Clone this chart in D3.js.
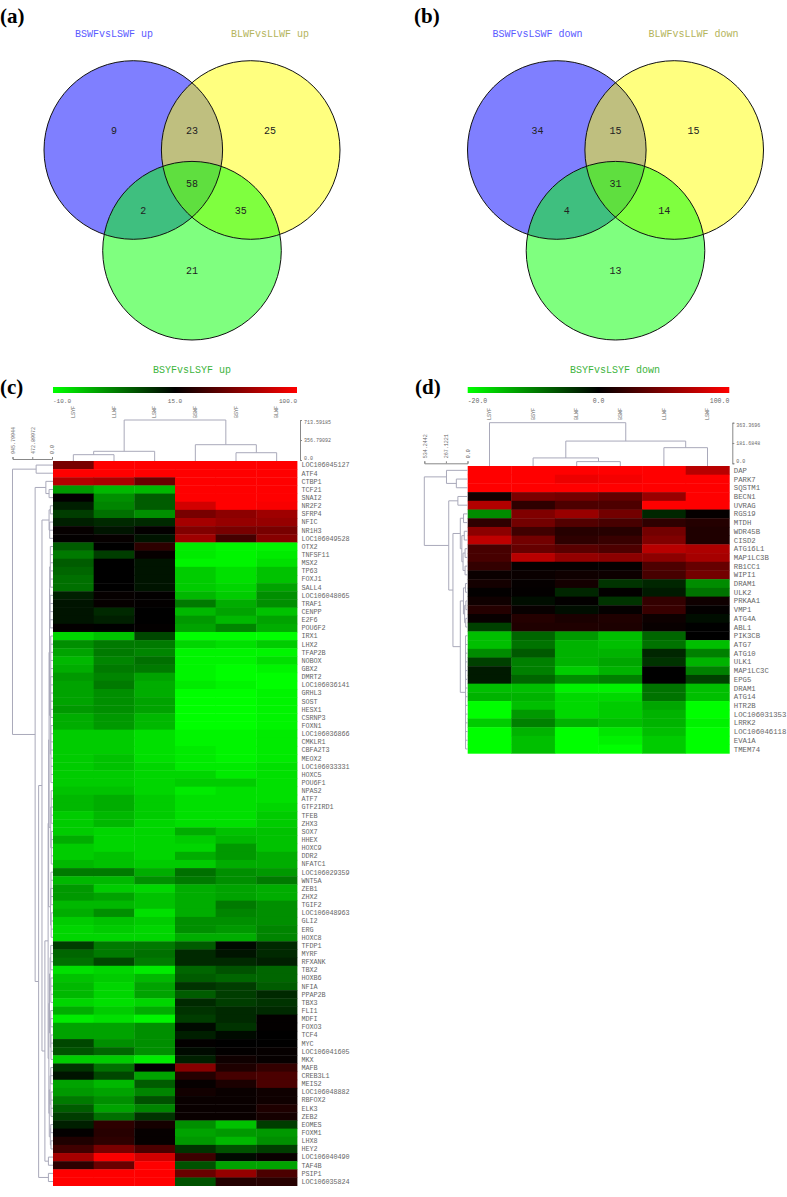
<!DOCTYPE html>
<html>
<head>
<meta charset="utf-8">
<script src="https://cdn.jsdelivr.net/npm/d3@7"></script>
<style>
    html, body { margin: 0; padding: 0; background: #fff; }
    svg { display: block; }
    text { font-family: "Liberation Mono", monospace; }
    .panel-tag { font-family: "Liberation Serif", serif; font-weight: bold; font-size: 21px; fill: #000; }
    .dendro { fill: none; stroke: #a9a9ba; stroke-width: 1; }
    .small-axis path, .small-axis line { stroke: #888; }
    .small-axis text { fill: #666; font-size: 5px; }
</style>
</head>
<body>
<div id="chart"></div>
<script>
/*
 *  DATA
 */

// venn counts, order: only A, A+B, only B, A+B+C, A+C, B+C, only C
var vennCountsA = [9, 23, 25, 58, 2, 35, 21];
var vennCountsB = [34, 15, 15, 31, 4, 14, 13];
var vennTitlesA = ["BSWFvsLSWF up", "BLWFvsLLWF up"];
var vennTitlesB = ["BSWFvsLSWF down", "BLWFvsLLWF down"];

var upCols = ["LSYF", "LLWF", "LSWF", "BSWF", "BSYF", "BLWF"];
var upStops = [-10, 15, 100];
var upStopLabels = ["-10.0", "15.0", "100.0"];
var upRows = ["LOC106045127", "ATF4", "CTBP1", "TCF21", "SNAI2", "NR2F2", "SFRP4", "NFIC", "NR1H3", "LOC106049528",
    "OTX2", "TNFSF11", "MSX2", "TP63", "FOXJ1", "SALL4", "LOC106048065", "TRAF1", "CENPP", "E2F6",
    "POU6F2", "IRX1", "LHX2", "TFAP2B", "NOBOX", "GBX2", "DMRT2", "LOC106036141", "GRHL3", "SOST",
    "HESX1", "CSRNP3", "FOXN1", "LOC106036866", "CMKLR1", "CBFA2T3", "MEOX2", "LOC106033331", "HOXC5", "POU6F1",
    "NPAS2", "ATF7", "GTF2IRD1", "TFEB", "ZHX3", "SOX7", "HHEX", "HOXC9", "DDR2", "NFATC1",
    "LOC106029359", "WNT5A", "ZEB1", "ZHX2", "TGIF2", "LOC106048963", "GLI2", "ERG", "HOXC8", "TFDP1",
    "MYRF", "RFXANK", "TBX2", "HOXB6", "NFIA", "PPAP2B", "TBX3", "FLI1", "MDFI", "FOXO3",
    "TCF4", "MYC", "LOC106041605", "MKX", "MAFB", "CREB3L1", "MEIS2", "LOC106048882", "RBFOX2", "ELK3",
    "ZEB2", "EOMES", "FOXM1", "LHX8", "HEY2", "LOC106040490", "TAF4B", "PSIP1", "LOC106035824"];
var upValues = [
    [55,100,100,100,100,100], [100,100,100,100,100,100], [75,72,50,100,100,100], [0,-3,-3,100,100,100],
    [15.5,1,6,100,100,100], [12,2,6,85,100,98], [9,4,1,55,62,68], [12,11,11,70,65,65],
    [17,13,16,58,55,55], [16,17,13,68,38,60], [6,15,30,-8,-9,-9], [3,9,17,-8,-9,-8],
    [6,15,13,-9,-9,-7], [5,15,13,-5,-7,-4], [4,15,13,-5,-7,-4], [4,15,13,-5,-6,-1],
    [12,17,16,-3,-5,1], [13,17,16,3,-2,1], [13,11,15,-3,-1,-4], [13,12,15,0,-3,-1],
    [16,15,16,-1,2,-2], [-6,-4,8,-10,-10,-10], [1,3,3,-6,-7,-5], [-1,3,2,-9,-9,-9],
    [-3,2,4,-9,-9,-7], [-2,3,3,-9,-10,-9], [0,2,-1,-9,-10,-10], [-1,3,-2,-8,-9,-10],
    [-1,1,-2,-10,-10,-9], [-1,1,-1,-10,-10,-9], [0,1,-1,-10,-10,-9], [-2,0,-3,-10,-10,-9],
    [-2,0,-3,-10,-10,-9], [-5,-5,-7,-9,-9,-8], [-5,-5,-7,-9,-9,-8], [-5,-5,-7,-8,-9,-8],
    [-5,-4,-7,-8,-9,-8], [-5,-4,-6,-8,-8,-7], [-5,-5,-6,-6,-8,-7], [-5,-5,-6,-5,-5,-7],
    [-4,-4,-6,-8,-7,-7], [-3,-2,-5,-7,-7,-7], [-3,-2,-5,-7,-7,-6], [-5,-3,-5,-7,-7,-5],
    [-5,-3,-6,-7,-7,-5], [-5,-6,-6,-2,-4,-4], [-2,-6,-6,-5,-3,-4], [-5,-6,-6,-6,0,-4],
    [-5,-4,-6,-2,0,-2], [-3,-4,-5,-5,-2,-2], [3,3,-2,4,1,0], [-3,-3,1,3,1,3],
    [0,-5,-6,-2,-1,-2], [0,-1,-4,-2,-1,-2], [-3,-3,-4,-2,3,1], [-2,1,-7,-2,2,1],
    [-5,-4,-5,1,1,1], [-6,-5,-6,1,0,2], [-6,-6,-6,-2,-2,2], [9,3,3,6,14,11],
    [5,3,4,11,13,11], [4,8,3,11,11,12], [-7,-6,-8,5,7,5], [-4,-5,-3,6,5,5],
    [-3,-6,-1,10,9,6], [-3,-6,-1,6,9,11], [-6,-7,-6,11,9,10], [-2,-5,-2,10,11,11],
    [-8,-7,-9,9,11,16], [-1,-1,1,14,10,16], [-1,-1,1,12,14,15], [8,1,1,16,15,15],
    [7,5,1,14,16,17], [-5,-5,-8,12,20,17], [10,4,15,60,25,32], [13,8,-1,27,38,40],
    [-1,-3,6,17,24,40], [0,-1,2,21,18,20], [3,1,7,18,18,20], [6,-1,2,18,18,25],
    [9,4,10,18,18,22], [12,30,22,1,-4,9], [16,28,17,-1,0,0], [25,30,17,0,-3,1],
    [36,55,40,10,7,9], [70,98,85,35,14,18], [30,50,100,7,-1,-1], [100,100,100,50,65,40],
    [100,100,100,7,27,28]
];

var downCols = ["LSYF", "BSYF", "BLWF", "BSWF", "LLWF", "LSWF"];
var downStops = [-20, 0, 100];
var downStopLabels = ["-20.0", "0.0", "100.0"];
var downRows = ["DAP", "PARK7", "SQSTM1", "BECN1", "UVRAG", "RGS19", "MTDH", "WDR45B", "CISD2", "ATG16L1", "MAP1LC3B",
    "RB1CC1", "WIPI1", "DRAM1", "ULK2", "PRKAA1", "VMP1", "ATG4A", "ABL1", "PIK3CB", "ATG7", "ATG10",
    "ULK1", "MAP1LC3C", "EPG5", "DRAM1", "ATG14", "HTR2B", "LOC106031353", "LRRK2", "LOC106046118", "EVA1A", "TMEM74"];
var downValues = [
    [100,100,100,100,100,72], [100,100,93,96,100,100], [100,100,100,100,100,100], [8,48,45,38,60,100],
    [70,18,30,30,100,100], [-11,50,60,45,-3,2], [18,45,32,28,18,14], [55,25,15,15,45,12],
    [75,45,18,22,50,12], [28,40,35,30,72,68], [28,72,58,55,55,65], [20,2,2,2,30,40],
    [4,4,6,5,28,45], [8,2,8,-4,-3,-11], [1,1,-3,1,-2,-9], [6,-1,1,-4,20,6],
    [14,3,-1,2,22,1], [3,14,10,12,5,-1], [-5,12,12,11,3,0], [-15,-8,-12,-15,-8,0],
    [-15,-9,-14,-15,-9,-15], [-11,-7,-14,-14,-3,-10], [-5,-10,-14,-13,-4,-14], [-2,-10,-16,-14,0,-10],
    [-2,-8,-11,-10,0,-5], [-15,-15,-19,-19,-9,-15], [-14,-14,-17,-17,-9,-15], [-20,-15,-17,-16,-13,-20],
    [-20,-12,-17,-16,-14,-20], [-16,-10,-14,-15,-14,-19], [-20,-14,-20,-18,-15,-20], [-20,-15,-20,-19,-16,-20],
    [-20,-15,-20,-20,-16,-20]
];

// dendrograms: [height, child, child...], a plain number n is a run of n leaves
var upColTree = [713.59, [155, [95, 2], 1], [273, 1, [130, 2]]];
var upColTicks = [0, 356.79092, 713.59185];
var upColTickLabels = ["0.0", "356.79092", "713.59185"];
var upRowTicks = [0, 472.89972, 945.79944];
var upRowTickLabels = ["0.0", "472.89972", "945.79944"];
var upRowTree = [945.8, [380, 2],
    [404, [147, 1, [70, 2]],
        [320,
            [240, [70, [40, 2], [55, 3]],
                [170,
                    [93,
                        [80,
                            [70,
                                [60, [55, [40, 6], [45, 5]], [40, [30, 11], [25, 8]]],
                                [30, [20, 5], [18, 5]]],
                            [35, [25, 5], [20, 4]]],
                        [75,
                            [60, [45, [30, 4], [28, 4]], [40, [30, 3], [25, 4]]],
                            [65, [45, [30, 3], [25, 4]], [40, [30, 2], [25, 2]]]]],
                    [86, 2]]],
            [86, 2]]]];

var downColTree = [363.37, 1, [199, [48, 1, [15, 2]], [140, 2]]];
var downColTicks = [0, 181.6848, 363.3696];
var downColTickLabels = ["0.0", "181.6848", "363.3696"];
var downRowTicks = [0, 267.1221, 534.2442];
var downRowTickLabels = ["0.0", "267.1221", "534.2442"];
var downRowTree = [534.24, [260, 1, [138, 2]],
    [232, [119, 2],
        [180,
            [89, [49, 2], [70, [40, 2], [55, [30, 2], [30, 2]]]],
            [89, [50, [25, 2], [35, [20, 2], [22, 2]]], [24, 14]]]]];


/*
 *  DRAWING
 */

var svg = d3.select("#chart")
    .append("svg")
    .attr("width", 787)
    .attr("height", 1197);

var defs = svg.append("defs");

function panelTag(label, x, y) {
    svg.append("text")
        .attr("class", "panel-tag")
        .attr("x", x)
        .attr("y", y)
        .text(label);
}

function venn(midX, counts, titles) {
    var r = 89.3;
    var dx = 58.7;
    var top = 150;
    var bottom = 250.7;

    var x = d3.scaleLinear().domain([-1, 1]).range([midX - dx, midX + dx]);

    var circles = [
        { cx: -1, cy: top, fill: "#0000ff" },
        { cx: 1, cy: top, fill: "#ffff00" },
        { cx: 0, cy: bottom, fill: "#00ff00" }
    ];

    var g = svg.append("g");

    g.selectAll("circle.fill")
        .data(circles)
        .enter()
        .append("circle")
        .attr("class", "fill")
        .attr("cx", function(d) { return x(d.cx); })
        .attr("cy", function(d) { return d.cy; })
        .attr("r", r)
        .attr("fill", function(d) { return d.fill; })
        .attr("fill-opacity", 0.5);

    g.selectAll("circle.edge")
        .data(circles)
        .enter()
        .append("circle")
        .attr("class", "edge")
        .attr("cx", function(d) { return x(d.cx); })
        .attr("cy", function(d) { return d.cy; })
        .attr("r", r)
        .attr("fill", "none")
        .attr("stroke", "#111")
        .attr("stroke-width", 1);

    // where each count sits, same order as the counts array
    var spots = [[-1.33, 130], [0, 130], [1.33, 130], [0, 183], [-0.83, 210], [0.83, 210], [0, 270]];

    g.selectAll("text.count")
        .data(counts)
        .enter()
        .append("text")
        .attr("class", "count")
        .attr("x", function(d, i) { return x(spots[i][0]); })
        .attr("y", function(d, i) { return spots[i][1]; })
        .attr("dy", "0.35em")
        .attr("text-anchor", "middle")
        .attr("font-size", 10)
        .attr("fill", "#222")
        .text(function(d) { return d; });

    var titleColors = ["#5a5aff", "#b4b45a"];

    g.selectAll("text.title")
        .data(titles)
        .enter()
        .append("text")
        .attr("class", "title")
        .attr("x", function(d, i) { return x(i == 0 ? -1.33 : 1.33); })
        .attr("y", 33)
        .attr("dy", "0.35em")
        .attr("text-anchor", "middle")
        .attr("font-size", 10)
        .attr("fill", function(d, i) { return titleColors[i]; })
        .text(function(d) { return d; });
}

// walks the nested tree, gives back line segments in (height, position) terms
function treeSegments(tree, position) {
    var segs = [];
    var leaf = 0;

    function walk(node) {
        var h = node[0];
        var kids = [];
        node.slice(1).forEach(function(kid) {
            if (typeof kid === "number") {
                for (var i = 0; i < kid; i++) {
                    kids.push({ h: null, p: position(leaf) });
                    leaf++;
                }
            } else {
                kids.push({ h: kid[0], p: walk(kid) });
            }
        });
        var first = kids[0].p;
        var last = kids[kids.length - 1].p;
        segs.push({ h0: h, p0: first, h1: h, p1: last });
        kids.forEach(function(k) {
            segs.push({ h0: h, p0: k.p, h1: k.h, p1: k.p });
        });
        return (first + last) / 2;
    }

    walk(tree);
    return segs;
}

function heatmap(o) {
    var g = svg.append("g");

    var x = d3.scaleBand().domain(d3.range(o.cols.length)).range([o.left, o.right]);
    var y = d3.scaleBand().domain(d3.range(o.rows.length)).range([o.top, o.bottom]);

    var color = d3.scaleLinear()
        .domain(o.stops)
        .range(["#00ff00", "#000000", "#ff0000"])
        .clamp(true);

    // title and colour bar
    g.append("text")
        .attr("x", o.titleX)
        .attr("y", 369.5)
        .attr("dy", "0.35em")
        .attr("text-anchor", "middle")
        .attr("font-size", 10)
        .attr("fill", "#3cb43c")
        .text(o.title);

    var grad = defs.append("linearGradient").attr("id", o.id);
    grad.selectAll("stop")
        .data([0, 1, 2])
        .enter()
        .append("stop")
        .attr("offset", function(d) { return d * 50 + "%"; })
        .attr("stop-color", function(d) { return color(o.stops[d]); });

    g.append("rect")
        .attr("x", o.left)
        .attr("y", 387)
        .attr("width", o.right - o.left)
        .attr("height", 6)
        .attr("fill", "url(#" + o.id + ")");

    var anchors = ["start", "middle", "end"];
    g.selectAll("text.stop")
        .data(o.stopLabels)
        .enter()
        .append("text")
        .attr("class", "stop")
        .attr("x", function(d, i) { return o.left + (o.right - o.left) * i / 2; })
        .attr("y", 401)
        .attr("dy", "0.35em")
        .attr("text-anchor", function(d, i) { return anchors[i]; })
        .attr("font-size", o.stopSize)
        .attr("fill", "#666")
        .text(function(d) { return d; });

    // column names, read upwards
    g.selectAll("text.col")
        .data(o.cols)
        .enter()
        .append("text")
        .attr("class", "col")
        .attr("transform", function(d, i) {
            return "translate(" + (x(i) + x.bandwidth() / 2) + "," + o.colNameY + ")rotate(-90)";
        })
        .attr("dy", "0.35em")
        .attr("font-size", 5)
        .attr("fill", "#666")
        .text(function(d) { return d; });

    // cells
    var rowsG = g.selectAll("g.row")
        .data(o.values)
        .enter()
        .append("g")
        .attr("class", "row")
        .attr("transform", function(d, i) { return "translate(0," + y(i) + ")"; });

    rowsG.selectAll("rect")
        .data(function(d) { return d; })
        .enter()
        .append("rect")
        .attr("x", function(d, i) { return x(i); })
        .attr("width", x.bandwidth() + 0.4)
        .attr("height", y.bandwidth() + 0.4)
        .attr("fill", function(d) { return color(d); });

    // row names
    g.selectAll("text.rowname")
        .data(o.rows)
        .enter()
        .append("text")
        .attr("class", "rowname")
        .attr("x", o.right + 4.5)
        .attr("y", function(d, i) { return y(i) + y.bandwidth() / 2; })
        .attr("dy", "0.35em")
        .attr("font-size", o.rowSize)
        .attr("letter-spacing", o.rowSpacing)
        .attr("fill", "#666")
        .text(function(d) { return d; });

    // top dendrogram and its axis
    var colH = d3.scaleLinear()
        .domain([0, o.colTicks[2]])
        .range([o.colAxisBottom, o.colAxisTop]);

    var colSegs = treeSegments(o.colTree, function(i) { return x(i) + x.bandwidth() / 2; });
    g.selectAll("line.col-branch")
        .data(colSegs)
        .enter()
        .append("line")
        .attr("class", "dendro col-branch")
        .attr("x1", function(d) { return d.p0; })
        .attr("x2", function(d) { return d.p1; })
        .attr("y1", function(d) { return colH(d.h0); })
        .attr("y2", function(d) { return d.h1 === null ? o.top : colH(d.h1); });

    var colAxis = g.append("g")
        .attr("class", "small-axis")
        .attr("transform", "translate(" + (o.right + 3) + ",0)")
        .call(d3.axisRight(colH)
            .tickValues(o.colTicks)
            .tickSize(2)
            .tickPadding(2)
            .tickFormat(function(d, i) { return o.colTickLabels[i]; }));

    // end labels sit inside the bracket so they stay clear of the row names
    colAxis.selectAll("text")
        .attr("y", function(d, i) { return i == 0 ? -2.5 : (i == 2 ? 2 : 0); });

    // left dendrogram and its axis
    var rowH = d3.scaleLinear()
        .domain([0, o.rowTicks[2]])
        .range([o.rowAxisRight, o.rowAxisLeft]);

    var rowSegs = treeSegments(o.rowTree, function(i) { return y(i) + y.bandwidth() / 2; });
    g.selectAll("line.row-branch")
        .data(rowSegs)
        .enter()
        .append("line")
        .attr("class", "dendro row-branch")
        .attr("y1", function(d) { return d.p0; })
        .attr("y2", function(d) { return d.p1; })
        .attr("x1", function(d) { return rowH(d.h0); })
        .attr("x2", function(d) { return d.h1 === null ? o.left : rowH(d.h1); });

    var rowAxis = g.append("g")
        .attr("class", "small-axis")
        .attr("transform", "translate(0," + o.rowAxisY + ")")
        .call(d3.axisTop(rowH)
            .tickValues(o.rowTicks)
            .tickSize(2)
            .tickPadding(2)
            .tickFormat(function(d, i) { return o.rowTickLabels[i]; }));

    rowAxis.selectAll("text")
        .attr("transform", "rotate(-90)")
        .attr("text-anchor", "start")
        .attr("x", 5)
        .attr("y", 0)
        .attr("dy", "0.35em");
}

panelTag("(a)", 0, 23);
panelTag("(b)", 414, 23);
panelTag("(c)", 0, 394);
panelTag("(d)", 415, 394);

venn(192, vennCountsA, vennTitlesA);
venn(615.5, vennCountsB, vennTitlesB);

heatmap({
    id: "up-grad",
    title: "BSYFvsLSYF up",
    titleX: 192,
    cols: upCols,
    rows: upRows,
    values: upValues,
    stops: upStops,
    stopLabels: upStopLabels,
    colTree: upColTree,
    colTicks: upColTicks,
    colTickLabels: upColTickLabels,
    rowTree: upRowTree,
    rowTicks: upRowTicks,
    rowTickLabels: upRowTickLabels,
    left: 53,
    right: 297,
    top: 461,
    bottom: 1185.6,
    colNameY: 418,
    colAxisTop: 420,
    colAxisBottom: 460,
    rowAxisLeft: 12.5,
    rowAxisRight: 52,
    rowAxisY: 459,
    rowSize: 6.8,
    rowSpacing: -0.08,
    stopSize: 6
});

heatmap({
    id: "down-grad",
    title: "BSYFvsLSYF down",
    titleX: 615,
    cols: downCols,
    rows: downRows,
    values: downValues,
    stops: downStops,
    stopLabels: downStopLabels,
    colTree: downColTree,
    colTicks: downColTicks,
    colTickLabels: downColTickLabels,
    rowTree: downRowTree,
    rowTicks: downRowTicks,
    rowTickLabels: downRowTickLabels,
    left: 467.7,
    right: 729.3,
    top: 466,
    bottom: 753.3,
    colNameY: 420,
    colAxisTop: 422.7,
    colAxisBottom: 463.3,
    rowAxisLeft: 424.3,
    rowAxisRight: 467.5,
    rowAxisY: 463.3,
    rowSize: 7.3,
    rowSpacing: 0,
    stopSize: 6.5
});
</script>
</body>
</html>
